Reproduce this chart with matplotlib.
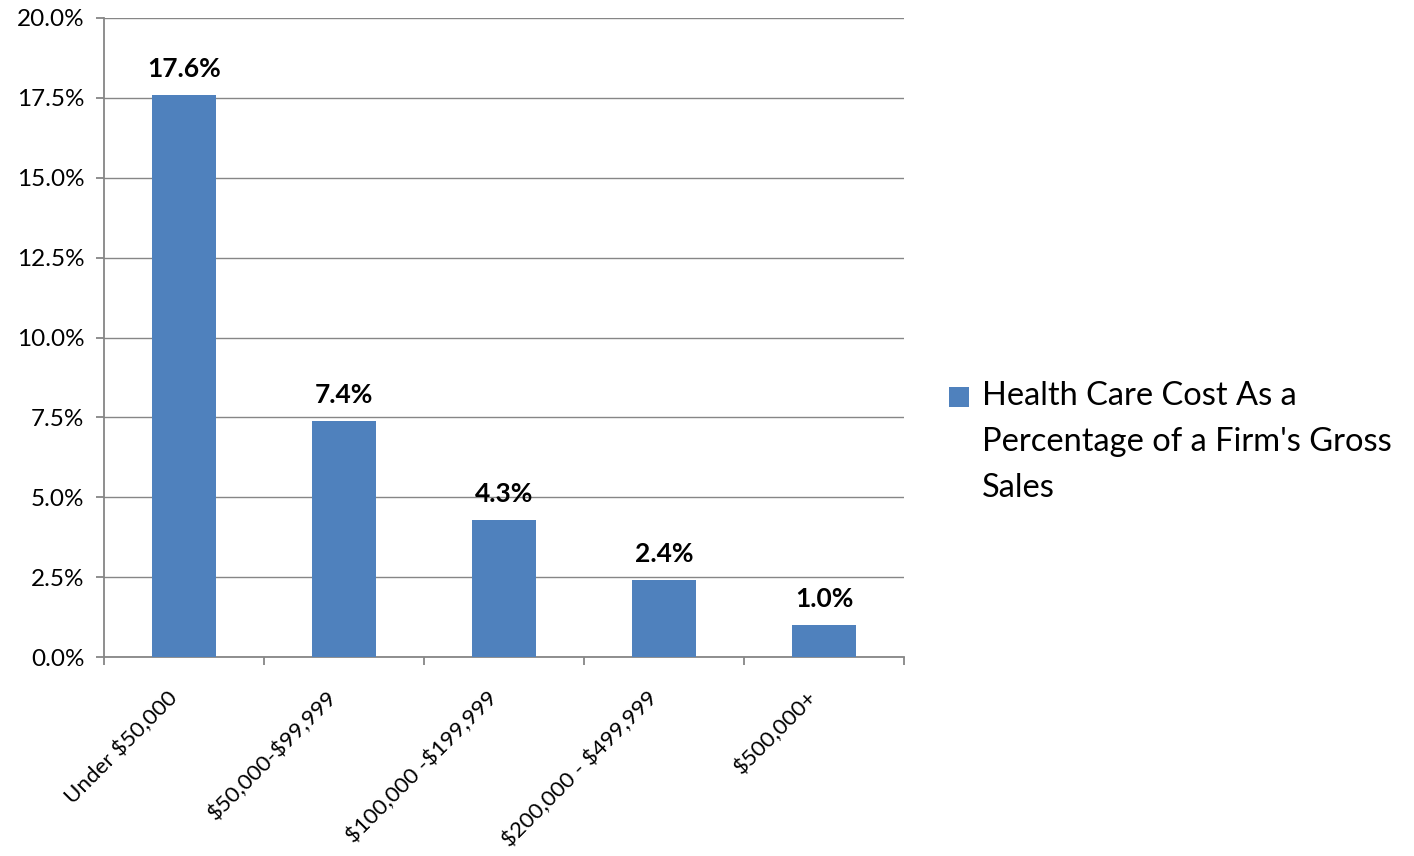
import matplotlib.pyplot as plt
import matplotlib.transforms as mtransforms
import numpy as np

# Data
categories = ["Under $50,000", "$50,000-$99,999", "$100,000 -$199,999",
              "$200,000 - $499,999", "$500,000+"]
values = [17.6, 7.4, 4.3, 2.4, 1.0]  # percent
series_name = "Health Care Cost As a\nPercentage of a Firm's Gross\nSales"
yticks = [0, 2.5, 5, 7.5, 10, 12.5, 15, 17.5, 20]

plt.rcParams['font.family'] = ['Lato', 'DejaVu Sans']
plt.rcParams['text.parse_math'] = False

fig = plt.figure(figsize=(14.14, 8.56), dpi=100)
ax = fig.add_axes([104/1414, 1-657/856, 800/1414, 639/856])

x = np.arange(len(categories))
bars = ax.bar(x, values, width=0.4, color="#4F81BD", zorder=3, label=series_name)

for xi, v in zip(x, values):
    ax.annotate("%.1f%%" % v, (xi, v), xytext=(0, 10), textcoords="offset points",
                ha="center", va="bottom", fontsize=19, fontweight="bold")

ax.set_xlim(-0.5, len(categories) - 0.5)
ax.set_ylim(0, 20)
ax.set_yticks(yticks)
ax.set_yticklabels(["%.1f%%" % t for t in yticks], fontsize=17.5)
ax.grid(axis="y", color="#868686", linewidth=1.0, zorder=0)

# category boundaries as major ticks, labels on minor ticks
ax.set_xticks(np.arange(-0.5, len(categories)))
ax.set_xticklabels([])
ax.set_xticks(x, minor=True)
ax.set_xticklabels(categories, minor=True, rotation=45, ha="right", va="center",
                   rotation_mode="anchor", fontsize=16)
ax.tick_params(axis="x", which="minor", length=0, pad=27)
ax.tick_params(axis="x", which="major", length=6, color="#868686", width=1.3)
ax.tick_params(axis="y", length=6, color="#868686", width=1.3, pad=8)
shift = mtransforms.ScaledTranslation(-0.1, 0, fig.dpi_scale_trans)
for lbl in ax.get_xticklabels(minor=True):
    lbl.set_transform(lbl.get_transform() + shift)

for s in ["top", "right"]:
    ax.spines[s].set_visible(False)
for s in ["left", "bottom"]:
    ax.spines[s].set_color("#868686")
    ax.spines[s].set_linewidth(1.3)

leg = fig.legend(loc="upper left", bbox_to_anchor=(920/1414, 1-352/856), frameon=False,
                 fontsize=23.5, handlelength=0.6, handleheight=0.6, handletextpad=0.4)
leg.get_texts()[0].set_linespacing(1.66)
# put the colour square next to the first line, as in the original
h = leg.legend_handles[0]
h.set_y(h.get_y() + 33)

plt.savefig("out.png", dpi=100)
